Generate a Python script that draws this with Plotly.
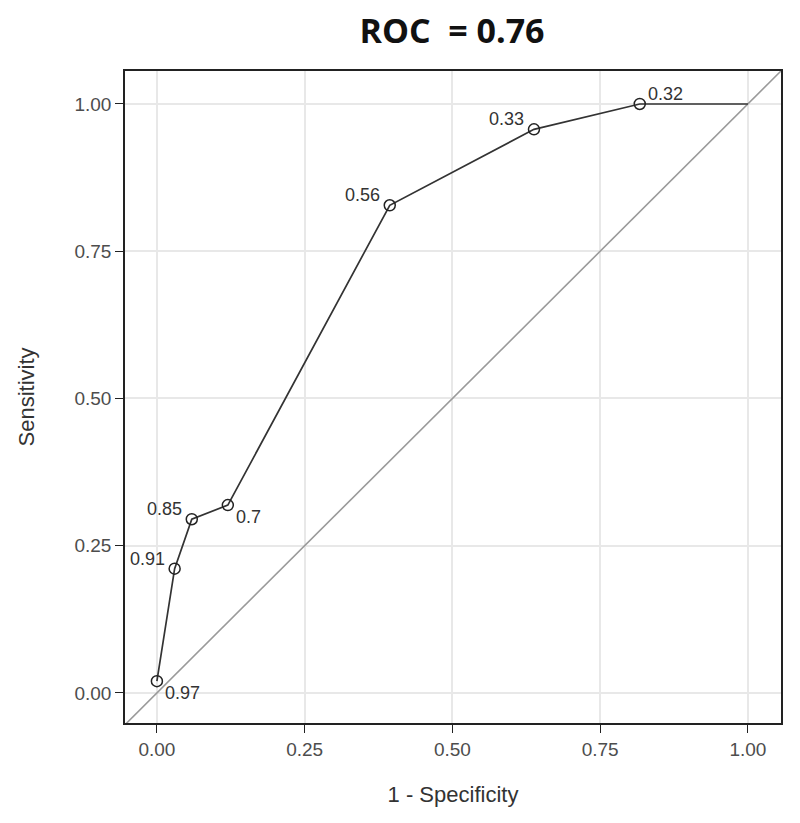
import plotly.graph_objects as go

fpr = [0.0, 0.030, 0.059, 0.120, 0.394, 0.638, 0.817]
tpr = [0.020, 0.211, 0.295, 0.319, 0.828, 0.957, 1.0]
cut_labels = ["0.97", "0.91", "0.85", "0.7", "0.56", "0.33", "0.32"]
label_dx = [1, -1, -1, 1, -1, -1, 1]
label_dy = [-1, 1, 1, -1, 1, 1, 1]
end_x = [1.0]
end_y = [1.0]
ticks = [0, 0.25, 0.5, 0.75, 1.0]
tick_text = ["0.00", "0.25", "0.50", "0.75", "1.00"]

FONT = "Liberation Sans, Arial"

fig = go.Figure()
# diagonal reference
fig.add_trace(go.Scatter(x=[-0.1, 1.1], y=[-0.1, 1.1], mode="lines",
                         line=dict(color="#9a9a9a", width=1.6), hoverinfo="skip", showlegend=False))
# ROC line
fig.add_trace(go.Scatter(x=fpr + end_x, y=tpr + end_y, mode="lines",
                         line=dict(color="#333333", width=1.7), showlegend=False))
# points
fig.add_trace(go.Scatter(x=fpr, y=tpr, mode="markers",
                         marker=dict(symbol="circle-open", size=11, color="#222222", line=dict(width=1.5)),
                         showlegend=False))
# labels
for x, y, t, dx, dy in zip(fpr, tpr, cut_labels, label_dx, label_dy):
    fig.add_annotation(x=x, y=y, text=t, showarrow=False,
                       xanchor="left" if dx > 0 else "right",
                       xshift=6 if dx > 0 else -8,
                       yshift=10 if dy > 0 else -12,
                       font=dict(family=FONT, size=18, color="#333333"))

axis_common = dict(
    tickvals=ticks, ticktext=tick_text, showgrid=True, gridcolor="#e8e8e8", gridwidth=1.5,
    zeroline=False, showline=True, linecolor="#222222", linewidth=1.6, mirror=True,
    ticks="outside", ticklen=8, tickcolor="#222222", tickwidth=1.4,
    tickfont=dict(family=FONT, size=19, color="#4d4d4d"),
)
fig.update_xaxes(range=[-0.054, 1.056], title=dict(text="1 - Specificity", standoff=28,
                 font=dict(family=FONT, size=22, color="#333333")), **axis_common)
fig.update_yaxes(range=[-0.051, 1.056], title=dict(text="Sensitivity", standoff=34,
                 font=dict(family=FONT, size=22, color="#333333")), **axis_common)

fig.update_layout(
    width=800, height=823,
    margin=dict(l=117, r=27, t=63, b=108),
    plot_bgcolor="white", paper_bgcolor="white",
    title=dict(text="<b>ROC  = 0.76</b>", x=0.555, xanchor="center", y=0.972, yanchor="middle",
               font=dict(family="Open Sans, Lato, sans-serif", size=34, color="#111111")),
)

fig.write_html("out.html")
